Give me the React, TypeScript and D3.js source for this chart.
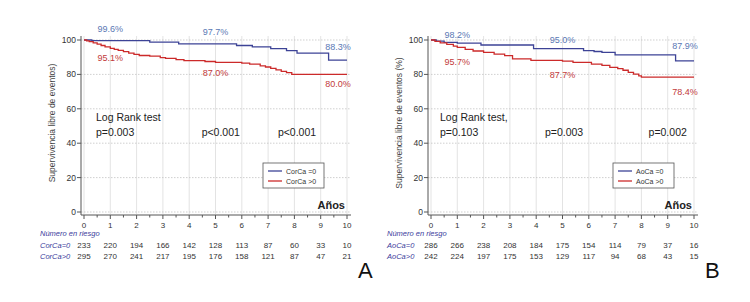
import React from "react";
import * as d3 from "d3";

const years = [0, 1, 2, 3, 4, 5, 6, 7, 8, 9, 10];
const yTicks = [0, 20, 40, 60, 80, 100];

// Panel A: CorCa
const aZeroTimes = [0, 0.3, 2.5, 3.6, 5.8, 6.4, 7.1, 7.7, 8.1, 9.3, 10];
const aZeroSurv = [100, 99.6, 98.8, 97.7, 96.8, 96.0, 95.0, 93.8, 92.4, 88.3, 88.3];
const aPosTimes = [0, 0.1, 0.2, 0.35, 0.5, 0.65, 0.8, 1.0, 1.15, 1.3, 1.5, 1.7, 1.9, 2.1, 2.5, 2.9, 3.1, 3.5, 3.8, 4.6, 5.0, 6.0, 6.3, 6.7, 6.9, 7.1, 7.3, 7.5, 7.7, 7.9, 10];
const aPosSurv = [100, 99.5, 99, 98.3, 97.6, 96.8, 96.0, 95.1, 94.6, 94.0, 93.2, 92.4, 91.7, 91.0, 90.6, 89.8, 89.3, 88.6, 88.0, 87.5, 87.0, 86.6, 86.0, 85.0, 84.3, 83.5, 82.6, 81.8, 81.0, 80.0, 80.0];
const aRiskZero = [233, 220, 194, 166, 142, 128, 113, 87, 60, 33, 10];
const aRiskPos = [295, 270, 241, 217, 195, 176, 158, 121, 87, 47, 21];
const aPValues = ["p=0.003", "p<0.001", "p<0.001"];

// Panel B: AoCa
const bZeroTimes = [0, 0.2, 0.5, 1.0, 1.9, 3.9, 5.8, 6.2, 6.5, 7.0, 9.3, 10];
const bZeroSurv = [100, 99.4, 98.6, 98.2, 97.1, 95.0, 93.8, 93.3, 92.8, 91.3, 87.9, 87.9];
const bPosTimes = [0, 0.15, 0.35, 0.6, 0.85, 1.0, 1.3, 1.6, 2.0, 2.4, 2.8, 3.1, 3.8, 5.0, 5.4, 6.1, 6.5, 6.8, 7.1, 7.3, 7.5, 7.7, 7.9, 8.0, 10];
const bPosSurv = [100, 99.2, 98.3, 97.4, 96.4, 95.7, 94.6, 93.6, 92.8, 91.8, 90.9, 89.0, 88.2, 87.7, 87.0, 86.0, 85.2, 84.1, 83.3, 82.4, 81.2, 80.2, 79.2, 78.4, 78.4];
const bRiskZero = [286, 266, 238, 208, 184, 175, 154, 114, 79, 37, 16];
const bRiskPos = [242, 224, 197, 175, 153, 129, 117, 94, 68, 43, 15];
const bPValues = ["p=0.103", "p=0.003", "p=0.002"];

const BLUE = "#3d4396";
const RED = "#cc2a2a";
const BLUE_T = "#5a78b4";
const RED_T = "#c23a3a";
const FONT = "Liberation Sans, Arial, sans-serif";

type PanelProps = {
  ox: number;
  group: string;
  yLabel: string;
  zT: number[]; zS: number[]; pT: number[]; pS: number[];
  riskZ: number[]; riskP: number[];
  pVals: string[];
  pPos: number[];
  zLabels: string[]; pLabels: string[];
  zLabY: number[]; pLabY: number[];
  logText: string;
  logX: number;
  letter: string;
  legX: number;
};

function Panel(p: PanelProps) {
  const x = d3.scaleLinear().domain([0, 10]).range([p.ox + 84, p.ox + 347]);
  const y = d3.scaleLinear().domain([0, 100]).range([212, 40]);
  const line = d3.line<[number, number]>().x(d => x(d[0])).y(d => y(d[1])).curve(d3.curveStepAfter);
  const zData = p.zT.map((t, i) => [t, p.zS[i]] as [number, number]);
  const pData = p.pT.map((t, i) => [t, p.pS[i]] as [number, number]);
  const axX = p.ox + 81;
  const right = p.ox + 351;
  const minor = d3.range(0, 10.01, 0.5);
  const labX = [x(1), x(5), x(10) - 9];
  return (
    <g fontFamily={FONT}>
      {years.map(t => (
        <line key={"vg" + t} x1={x(t)} x2={x(t)} y1={36} y2={214} stroke="#dcdcdc" strokeWidth={0.8} />
      ))}
      {yTicks.map(v => (
        <line key={"hg" + v} x1={axX} x2={right} y1={y(v)} y2={y(v)} stroke="#bbbbbb" strokeWidth={0.7} strokeDasharray="1.5,1.5" />
      ))}
      <line x1={axX} x2={axX} y1={36} y2={215} stroke="#555" strokeWidth={1} />
      {yTicks.map(v => (
        <g key={"yt" + v}>
          <line x1={axX - 4} x2={axX} y1={y(v)} y2={y(v)} stroke="#555" />
          <text x={axX - 5} y={y(v) + 3} fontSize={8.5} textAnchor="end" fill="#333">{v}</text>
        </g>
      ))}
      <line x1={axX} x2={right} y1={215} y2={215} stroke="#555" strokeWidth={1} />
      {minor.map(t => (
        <line key={"xt" + t} x1={x(t)} x2={x(t)} y1={215} y2={Number.isInteger(t) ? 219 : 217.5} stroke="#555" />
      ))}
      {years.map(t => (
        <text key={"xl" + t} x={x(t)} y={228} fontSize={8} textAnchor="middle" fill="#333">{t}</text>
      ))}
      <text transform={`translate(${p.ox + 55},123) rotate(-90)`} fontSize={8.5} textAnchor="middle" fill="#444">{p.yLabel}</text>
      <path d={line(zData) || ""} fill="none" stroke={BLUE} strokeWidth={1.3} />
      <path d={line(pData) || ""} fill="none" stroke={RED} strokeWidth={1.3} />
      {p.zLabels.map((s, i) => (
        <text key={"zl" + i} x={labX[i]} y={p.zLabY[i]} fontSize={9} textAnchor="middle" fill={BLUE_T}>{s}</text>
      ))}
      {p.pLabels.map((s, i) => (
        <text key={"pl" + i} x={labX[i]} y={p.pLabY[i]} fontSize={9} textAnchor="middle" fill={RED_T}>{s}</text>
      ))}
      <text x={x(0) + p.logX} y={121} fontSize={10.5} fill="#222">{p.logText}</text>
      <text x={x(0) + p.logX} y={136} fontSize={10.5} fill="#222">{p.pVals[0]}</text>
      <text x={x(p.pPos[0])} y={136} fontSize={10.5} fill="#222" textAnchor="middle">{p.pVals[1]}</text>
      <text x={x(p.pPos[1])} y={136} fontSize={10.5} fill="#222" textAnchor="middle">{p.pVals[2]}</text>
      <rect x={p.legX} y={163} width={61} height={25} fill="#fff" stroke="#555" strokeWidth={0.8} />
      <line x1={p.legX + 5} x2={p.legX + 19} y1={171} y2={171} stroke={BLUE} strokeWidth={1.3} />
      <line x1={p.legX + 5} x2={p.legX + 19} y1={181} y2={181} stroke={RED} strokeWidth={1.3} />
      <text x={p.legX + 23} y={173.5} fontSize={7} fill="#333">{p.group + " =0"}</text>
      <text x={p.legX + 23} y={183.5} fontSize={7} fill="#333">{p.group + " >0"}</text>
      <text x={x(9.4)} y={209} fontSize={11} fontWeight="bold" textAnchor="middle" fill="#222">Años</text>
      <text x={p.ox + 40} y={236} fontSize={7.5} fontStyle="italic" fill="#3c3c9c">Número en riesgo</text>
      <text x={p.ox + 40} y={248} fontSize={7.5} fontStyle="italic" fill="#3c3c9c">{p.group + "=0"}</text>
      <text x={p.ox + 40} y={259} fontSize={7.5} fontStyle="italic" fill="#3c3c9c">{p.group + ">0"}</text>
      {p.riskZ.map((v, i) => (
        <text key={"rz" + i} x={x(i)} y={248} fontSize={8} textAnchor="middle" fill="#333">{v}</text>
      ))}
      {p.riskP.map((v, i) => (
        <text key={"rp" + i} x={x(i)} y={259} fontSize={8} textAnchor="middle" fill="#333">{v}</text>
      ))}
      <text x={p.ox + 358} y={278} fontSize={22} fill="#111">{p.letter}</text>
    </g>
  );
}

export default function App() {
  return (
    <svg width={750} height={302} style={{ display: "block", position: "absolute", left: 0, top: 0, background: "#fff" }}>
      <rect width={750} height={302} fill="#fff" />
      <Panel ox={0} group="CorCa" yLabel="Supervivencia libre de eventos)"
        zT={aZeroTimes} zS={aZeroSurv} pT={aPosTimes} pS={aPosSurv}
        riskZ={aRiskZero} riskP={aRiskPos} pVals={aPValues} pPos={[5.2, 8.1]}
        zLabels={["99.6%", "97.7%", "88.3%"]} pLabels={["95.1%", "87.0%", "80.0%"]}
        zLabY={[32, 35, 50]} pLabY={[61, 76, 87]}
        logText="Log Rank test" logX={12} letter="A" legX={263} />
      <Panel ox={347} group="AoCa" yLabel="Supervivencia libre de eventos (%)"
        zT={bZeroTimes} zS={bZeroSurv} pT={bPosTimes} pS={bPosSurv}
        riskZ={bRiskZero} riskP={bRiskPos} pVals={bPValues} pPos={[5.06, 9.0]}
        zLabels={["98.2%", "95.0%", "87.9%"]} pLabels={["95.7%", "87.7%", "78.4%"]}
        zLabY={[38, 43, 49]} pLabY={[65, 78, 95]}
        logText="Log Rank test," logX={9} letter="B" legX={613} />
    </svg>
  );
}
